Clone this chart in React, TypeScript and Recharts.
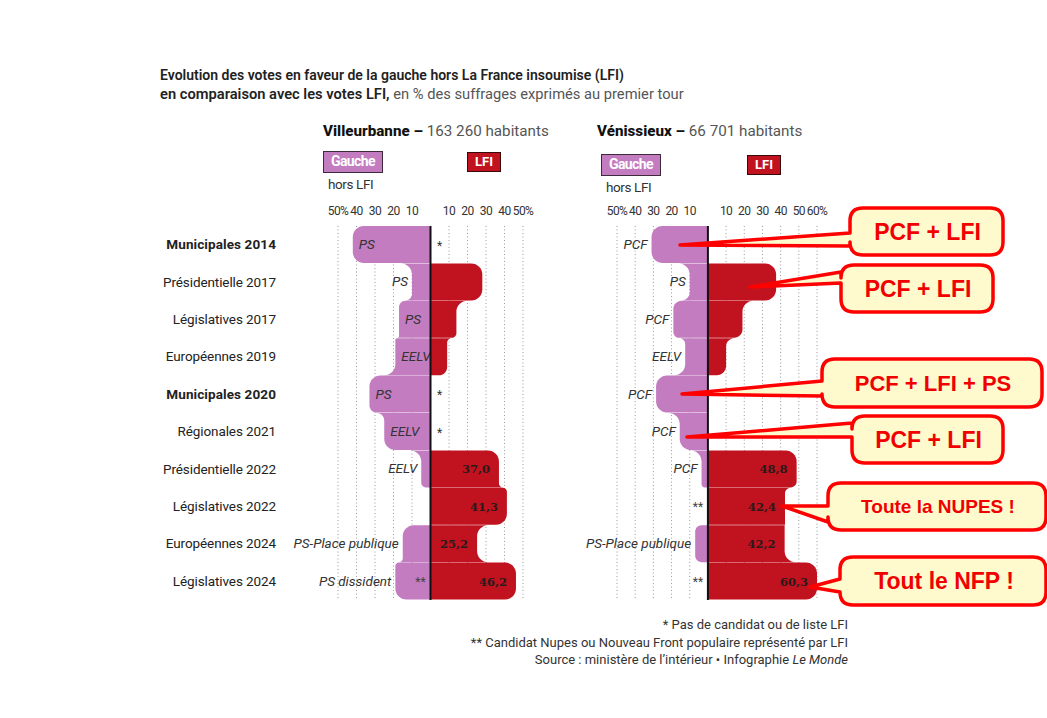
import React from 'react';
import { BarChart, Bar, XAxis, YAxis, CartesianGrid, ReferenceLine } from 'recharts';

const elections = [
  'Municipales 2014',
  'Présidentielle 2017',
  'Législatives 2017',
  'Européennes 2019',
  'Municipales 2020',
  'Régionales 2021',
  'Présidentielle 2022',
  'Législatives 2022',
  'Européennes 2024',
  'Législatives 2024',
];

// Villeurbanne, % of votes cast
const villeurbanneGauche = [42, 10, 17, 19, 33, 25, 5, 0, 15, 19];
const villeurbanneLfi = [0, 28, 14, 9, 0, 0, 37.0, 41.3, 25.2, 46.2];
const villeurbanneParties = ['PS', 'PS', 'PS', 'EELV', 'PS', 'EELV', 'EELV', '', 'PS-Place publique', 'PS dissident'];
const villeurbanneMarks = ['*', '', '', '', '*', '*', '', '', '', '**'];
const villeurbanneLabels = ['', '', '', '', '', '', '37,0', '41,3', '25,2', '46,2'];

// Vénissieux
const venissieuxGauche = [31, 10, 19, 12.5, 28.5, 15.5, 3.5, 0, 7, 0];
const venissieuxLfi = [0, 37.5, 19, 10, 0, 0, 48.8, 42.4, 42.2, 60.3];
const venissieuxParties = ['PCF', 'PS', 'PCF', 'EELV', 'PCF', 'PCF', 'PCF', '', 'PS-Place publique', ''];
const venissieuxMarks = ['', '', '', '', '', '', '', '**', '', '**'];
const venissieuxLabels = ['', '', '', '', '', '', '48,8', '42,4', '42,2', '60,3'];

const villeurbanneTicks = [-50, -40, -30, -20, -10, 0, 10, 20, 30, 40, 50];
const venissieuxTicks = [-50, -40, -30, -20, -10, 0, 10, 20, 30, 40, 50, 60];

const PINK = '#c27cbf';
const RED = '#c1121f';
const FONT = 'Roboto, "Liberation Sans", sans-serif';
const R = 11;

type Row = {
  name: string;
  gauche: number;
  lfi: number;
  party: string;
  mark: string;
  label: string;
};

function buildRows(gauche: number[], lfi: number[], parties: string[], marks: string[], labels: string[]): Row[] {
  return elections.map((name, i) => ({
    name,
    gauche: -gauche[i],
    lfi: lfi[i],
    party: parties[i],
    mark: marks[i],
    label: labels[i],
  }));
}

// rounded corner (convex or concave) between p0 and p3 around corner c
function corner(p0: number[], c: number[], p3: number[]) {
  const k = 0.55;
  const c1 = [p0[0] + k * (c[0] - p0[0]), p0[1] + k * (c[1] - p0[1])];
  const c2 = [p3[0] + k * (c[0] - p3[0]), p3[1] + k * (c[1] - p3[1])];
  return ` L${p0[0]},${p0[1]} C${c1[0]},${c1[1]} ${c2[0]},${c2[1]} ${p3[0]},${p3[1]}`;
}

function blobPath(zero: number, side: number, L: number, Lu: number, Ld: number, t: number, b: number) {
  const h = b - t;
  const xo = zero + side * L;
  let d = `M${zero},${t}`;
  const du = Lu - L;
  if (du > 0.5) {
    const r = Math.min(R, du / 2, h / 2);
    d += corner([xo + side * r, t], [xo, t], [xo, t + r]);
  } else if (du < -0.5) {
    const r = Math.min(R, -du / 2, h / 2);
    d += corner([xo - side * r, t], [xo, t], [xo, t + r]);
  } else d += ` L${xo},${t}`;
  const dd = Ld - L;
  if (dd > 0.5) {
    const r = Math.min(R, dd / 2, h / 2);
    d += corner([xo, b - r], [xo, b], [xo + side * r, b]);
  } else if (dd < -0.5) {
    const r = Math.min(R, -dd / 2, h / 2);
    d += corner([xo, b - r], [xo, b], [xo - side * r, b]);
  } else d += ` L${xo},${b}`;
  d += ` L${zero},${b} Z`;
  return d;
}

function makeShape(rows: Row[], key: 'gauche' | 'lfi', insideLabels: boolean) {
  const side = key === 'gauche' ? -1 : 1;
  return (props: any) => {
    const { x, y, width, height, index } = props;
    const row = rows[index];
    const v = Math.abs(row[key]);
    const x0 = Math.min(x, x + width);
    const x1 = Math.max(x, x + width);
    const t = Math.min(y, y + height);
    const b = Math.max(y, y + height);
    const cy = (t + b) / 2;
    const zero = side < 0 ? x1 : x0;
    const L = x1 - x0;
    const ppu = v > 0 ? L / v : 0;
    const up = index > 0 ? Math.abs(rows[index - 1][key]) * ppu : 0;
    const down = index < rows.length - 1 ? Math.abs(rows[index + 1][key]) * ppu : 0;
    const xo = zero + side * L;

    const parts: React.ReactNode[] = [];
    if (v > 0) {
      parts.push(<path key="p" d={blobPath(zero, side, L, up, down, t, b)} fill={key === 'gauche' ? PINK : RED} />);
    }
    if (key === 'gauche') {
      if (row.party) {
        const tw = row.party.length * 6.6;
        const inside = insideLabels && L >= tw + 8;
        parts.push(
          <text key="t" x={inside ? xo + 6 : xo - 4} y={cy} dy={4.5}
            textAnchor={inside ? 'start' : 'end'} fontFamily={FONT} fontStyle="italic"
            fontSize={13.5} fill="#333" letterSpacing={0}>
            {row.party}
          </text>
        );
      }
      if (row.mark === '*') {
        parts.push(<text key="m" x={zero + 9} y={cy} dy={5} textAnchor="middle" fontFamily={FONT} fontSize={12} fill="#333">*</text>);
      } else if (row.mark === '**') {
        parts.push(<text key="m" x={zero - 10} y={cy} dy={5} textAnchor="middle" fontFamily={FONT} fontSize={12} fill="#444">**</text>);
      }
    } else if (row.label) {
      parts.push(
        <text key="v" x={xo - 9} y={cy} dy={4.5} textAnchor="end" fontFamily='"DejaVu Serif", serif'
          fontWeight={700} fontSize={11.5} fill="#2b1a1a">
          {row.label}
        </text>
      );
    }
    return <g>{parts}</g>;
  };
}

const RowTick = (props: any) => {
  const { x, y, payload } = props;
  const bold = String(payload.value).startsWith('Municipales');
  return (
    <text x={x - 62} y={y} dy={4.5} textAnchor="end" fontFamily={FONT} fontSize={13.5}
      fontWeight={bold ? 700 : 400} fill="#222" letterSpacing={bold ? 0.1 : -0.1}>
      {payload.value}
    </text>
  );
};

type CityProps = {
  rows: Row[];
  ticks: number[];
  left: number;
  width: number;
  yAxisWidth: number;
  marginLeft: number;
  marginRight: number;
  insideLabels: boolean;
};

function CityChart({ rows, ticks, left, width, yAxisWidth, marginLeft, marginRight, insideLabels }: CityProps) {
  const lo = ticks[0];
  const hi = ticks[ticks.length - 1];
  return (
    <div style={{ position: 'absolute', left, top: 196 }}>
      <BarChart
        layout="vertical"
        width={width}
        height={404}
        data={rows}
        margin={{ top: 0, right: marginRight, bottom: 0, left: marginLeft }}
        barCategoryGap={0}
        stackOffset="sign"
      >
        <CartesianGrid horizontal={false} stroke="#9a9a9a" strokeDasharray="1 2.5" />
        <XAxis
          type="number"
          orientation="top"
          domain={[lo, hi]}
          ticks={ticks}
          allowDataOverflow
          axisLine={false}
          tickLine={false}
          tickSize={0}
          tickMargin={11}
          height={30}
          interval={0}
          tick={{ fontSize: 12, fill: '#333', fontFamily: FONT, letterSpacing: -0.6 }}
          tickFormatter={(v: number) => (v === 0 ? '' : v === lo || v === hi ? `${Math.abs(v)}%` : `${Math.abs(v)}`)}
        />
        {yAxisWidth > 0 ? (
          <YAxis type="category" dataKey="name" width={yAxisWidth} axisLine={false} tickLine={false}
            tickSize={0} tickMargin={0} interval={0} tick={<RowTick />} />
        ) : (
          <YAxis type="category" dataKey="name" hide />
        )}
        <Bar dataKey="gauche" stackId="s" fill={PINK} isAnimationActive={false} shape={makeShape(rows, 'gauche', insideLabels)} />
        <Bar dataKey="lfi" stackId="s" fill={RED} isAnimationActive={false} shape={makeShape(rows, 'lfi', insideLabels)} />
        <ReferenceLine x={0} stroke="#111" strokeWidth={2} />
      </BarChart>
    </div>
  );
}

function Legend({ left, top }: { left: number; top: number }) {
  return (
    <>
      <div style={{
        position: 'absolute', left, top, width: 60, height: 22, boxSizing: 'border-box',
        background: PINK, border: '1.5px solid #3d2b3b', color: '#fff', fontWeight: 700,
        fontSize: 14, lineHeight: '19px', textAlign: 'center', letterSpacing: -0.6, fontFamily: FONT,
      }}>Gauche</div>
      <div style={{ position: 'absolute', left: left + 5, top: top + 25, fontSize: 13.5, lineHeight: '16px', color: '#333', letterSpacing: -0.4, fontFamily: FONT }}>
        hors LFI
      </div>
    </>
  );
}

function LfiBox({ left, top }: { left: number; top: number }) {
  return (
    <div style={{
      position: 'absolute', left, top, width: 34, height: 20, boxSizing: 'border-box',
      background: RED, border: '1.5px solid #3a0a0a', color: '#fff', fontWeight: 700,
      fontSize: 13, lineHeight: '17px', textAlign: 'center', fontFamily: FONT,
    }}>LFI</div>
  );
}

const callouts = [
  { text: 'PCF + LFI', box: [850, 208, 153, 47], tail: [233, 246], tip: [680, 245], size: 23 },
  { text: 'PCF + LFI', box: [841, 265, 152, 47], tail: [272, 283], tip: [750, 287], size: 23 },
  { text: 'PCF + LFI + PS', box: [822, 359, 220, 48], tail: [381, 396], tip: [682, 394], size: 22 },
  { text: 'PCF + LFI', box: [852, 416, 151, 47], tail: [423, 437], tip: [687, 437], size: 23 },
  { text: 'Toute la NUPES !', box: [828, 483, 218, 47], tail: [506, 522], tip: [782, 506], size: 19 },
  { text: 'Tout le NFP !', box: [840, 557, 206, 48], tail: [579, 592], tip: [810, 587], size: 23 },
];

function bubblePath(box: number[], tail: number[], tip: number[]) {
  const [x, y, w, h] = box;
  const r = 13;
  return `M${x + r},${y} H${x + w - r} Q${x + w},${y} ${x + w},${y + r} V${y + h - r} Q${x + w},${y + h} ${x + w - r},${y + h} ` +
    `H${x + r} Q${x},${y + h} ${x},${y + h - r} V${tail[1]} L${tip[0]},${tip[1]} L${x},${tail[0]} V${y + r} Q${x},${y} ${x + r},${y} Z`;
}

function Callouts() {
  return (
    <svg width={1047} height={718} style={{ position: 'absolute', left: 0, top: 0, pointerEvents: 'none' }}>
      {callouts.map((c, i) => (
        <g key={i}>
          <path d={bubblePath(c.box, c.tail, c.tip)} fill="#fffacd" stroke="#ff0000" strokeWidth={3.5} strokeLinejoin="round" />
          <text x={c.box[0] + c.box[2] / 2 + 1} y={c.box[1] + c.box[3] / 2} dy={c.size * 0.36} textAnchor="middle"
            fontFamily='"Liberation Sans", Arial, sans-serif' fontWeight={700} fontSize={c.size} fill="#f00000">
            {c.text}
          </text>
        </g>
      ))}
    </svg>
  );
}

export default function App() {
  const villeurbanne = buildRows(villeurbanneGauche, villeurbanneLfi, villeurbanneParties, villeurbanneMarks, villeurbanneLabels);
  const venissieux = buildRows(venissieuxGauche, venissieuxLfi, venissieuxParties, venissieuxMarks, venissieuxLabels);

  return (
    <div style={{ position: 'fixed', left: 0, top: 0, width: 1047, height: 718, background: '#fff', overflow: 'hidden', fontFamily: FONT }}>
      <style>{`
        .recharts-surface { overflow: visible; }
        .recharts-wrapper g[clip-path] { clip-path: none !important; }
      `}</style>
      <div style={{ position: 'absolute', left: 160, top: 66, color: '#222' }}>
        <div style={{ fontWeight: 600, fontSize: 14, lineHeight: '19px' }}>
          Evolution des votes en faveur de la gauche hors La France insoumise (LFI)
        </div>
        <div style={{ fontSize: 14.7, lineHeight: '19px' }}>
          <span style={{ fontWeight: 600 }}>en comparaison avec les votes LFI,</span>
          <span style={{ color: '#555' }}> en % des suffrages exprimés au premier tour</span>
        </div>
      </div>

      <div style={{ position: 'absolute', left: 323, top: 122, fontSize: 15.2, lineHeight: '19px' }}>
        <span style={{ fontWeight: 800, color: '#111' }}>Villeurbanne –</span>
        <span style={{ color: '#555' }}> 163 260 habitants</span>
      </div>
      <div style={{ position: 'absolute', left: 597, top: 122, fontSize: 15.2, lineHeight: '19px' }}>
        <span style={{ fontWeight: 800, color: '#111' }}>Vénissieux –</span>
        <span style={{ color: '#555' }}> 66 701 habitants</span>
      </div>

      <Legend left={323} top={151} />
      <LfiBox left={467} top={152} />
      <Legend left={601} top={154} />
      <LfiBox left={747} top={155} />

      <CityChart rows={villeurbanne} ticks={villeurbanneTicks} left={150} width={373} yAxisWidth={188}
        marginLeft={0} marginRight={0} insideLabels />
      <CityChart rows={venissieux} ticks={venissieuxTicks} left={607} width={225} yAxisWidth={0}
        marginLeft={10} marginRight={15} insideLabels={false} />

      <div style={{ position: 'absolute', right: 199, top: 616, textAlign: 'right', fontSize: 13, lineHeight: '17.5px', color: '#333' }}>
        <div>* Pas de candidat ou de liste LFI</div>
        <div>** Candidat Nupes ou Nouveau Front populaire représenté par LFI</div>
        <div>Source : ministère de l’intérieur • Infographie <i>Le Monde</i></div>
      </div>

      <Callouts />
    </div>
  );
}
